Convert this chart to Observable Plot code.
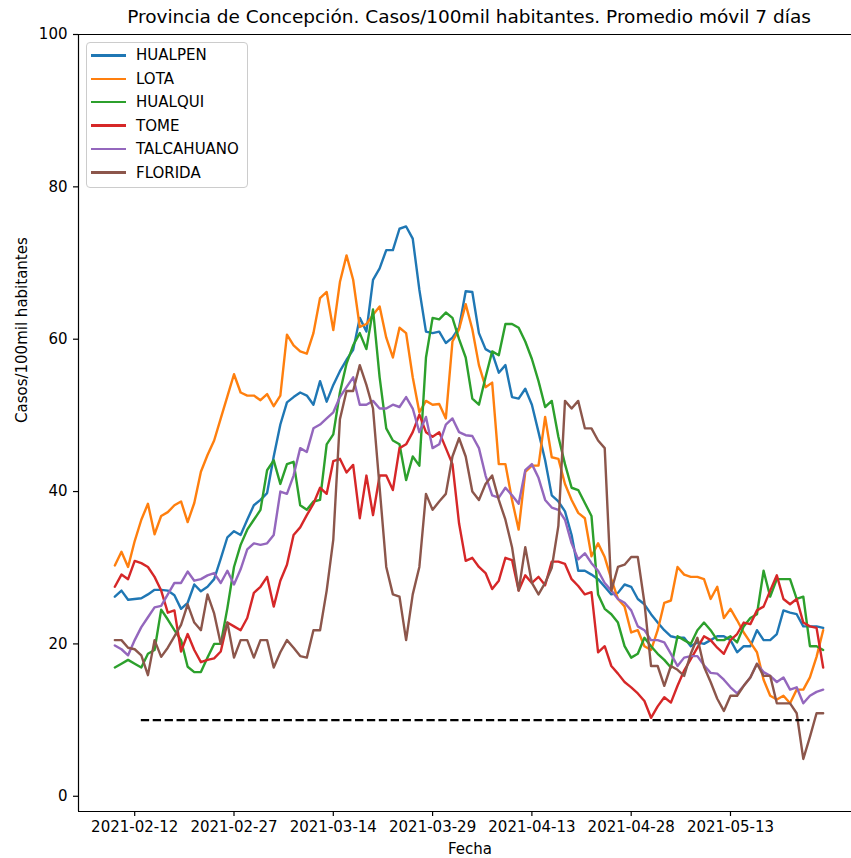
<!DOCTYPE html>
<html>
<head>
<meta charset="utf-8">
<script src="https://cdn.jsdelivr.net/npm/d3@7"></script>
<script src="https://cdn.jsdelivr.net/npm/@observablehq/plot@0.6"></script>
<style>
  html, body { margin: 0; padding: 0; background: #fff; }
  #wrap { position: relative; width: 851px; height: 858px; font-family: "DejaVu Sans", sans-serif; }
  #legend { position: absolute; left: 86px; top: 42px; width: 162px; height: 146px; box-sizing: border-box;
            border: 1px solid #cccccc; border-radius: 4px; background: rgba(255,255,255,0.8); }
  .sw { position: absolute; left: 4px; width: 35px; height: 2.5px; }
  .lab { position: absolute; left: 49px; font-size: 15px; line-height: 18px; color: #000; white-space: nowrap; }
</style>
</head>
<body>
<div id="wrap"></div>
<script>
// ---- data ----
const series = ["HUALPEN", "LOTA", "HUALQUI", "TOME", "TALCAHUANO", "FLORIDA"];
const colors = ["#1f77b4", "#ff7f0e", "#2ca02c", "#d62728", "#9467bd", "#8c564b"];
const firstDay = "2021-02-09";
const lastDay = "2021-05-27";

const hualpen = [
  26.2, 27.0, 25.8, 25.9, 26.0, 26.5, 27.1, 27.1, 27.0, 26.4,
  24.6, 25.4, 27.8, 26.9, 27.5, 28.5, 31.2, 34.0, 34.8, 34.3,
  36.3, 38.2, 38.9, 39.8, 44.6, 48.8, 51.7, 52.4, 53.0, 52.6,
  51.4, 54.5, 51.8, 54.0, 55.8, 57.3, 58.6, 62.8, 61.0, 67.8,
  69.3, 71.7, 71.7, 74.5, 74.8, 73.2, 66.5, 61.0, 60.8, 61.0,
  59.5, 60.2, 61.5, 66.3, 66.2, 60.8, 58.7, 58.2, 55.6, 56.6,
  52.4, 52.2, 53.5, 51.4, 47.8, 44.1, 39.5, 38.7, 37.4, 34.3,
  29.6, 29.6, 29.1, 28.5, 27.5, 26.5, 26.7, 27.8, 27.5, 25.9,
  25.2, 23.9, 22.8, 21.8, 21.0, 20.8, 20.8, 19.7, 20.2, 20.0,
  20.5, 21.0, 21.0, 20.5, 18.9, 19.7, 19.7, 21.8, 20.5, 20.5,
  21.3, 24.4, 24.1, 23.9, 22.3, 22.3, 22.3, 22.1
];
const lota = [
  30.3, 32.1, 30.1, 33.5, 36.3, 38.4, 34.4, 36.8, 37.3, 38.2,
  38.7, 36.0, 38.5, 42.6, 44.8, 46.7, 49.6, 52.5, 55.4, 53.0,
  52.6, 52.6, 52.0, 52.8, 51.2, 52.6, 60.6, 59.2, 58.4, 58.1,
  60.8, 65.4, 66.2, 61.2, 67.5, 71.0, 67.8, 61.6, 62.0, 63.2,
  64.3, 60.2, 57.6, 61.5, 60.8, 55.0, 50.4, 51.9, 51.4, 51.5,
  49.6, 59.7, 61.3, 64.6, 61.3, 56.6, 53.7, 54.3, 43.6, 43.6,
  38.9, 35.0, 42.6, 43.4, 43.4, 49.8, 44.5, 44.3, 41.0, 38.9,
  37.2, 36.5, 31.5, 33.2, 31.4, 28.5, 25.9, 24.9, 21.5, 21.8,
  19.7, 19.2, 21.8, 25.4, 25.7, 30.1, 29.1, 28.8, 28.8, 28.5,
  25.9, 27.5, 23.4, 24.6, 23.1, 21.5, 20.2, 18.9, 15.3, 13.2,
  12.7, 13.2, 12.2, 14.0, 14.0, 15.6, 18.3, 21.8
];
const hualqui = [
  16.9, 17.4, 17.9, 17.4, 16.9, 18.7, 19.2, 24.5, 23.2, 21.8,
  20.5, 17.0, 16.3, 16.3, 18.2, 20.0, 20.0, 24.7, 30.1, 33.0,
  35.0, 36.3, 37.6, 42.8, 44.1, 41.0, 43.6, 43.9, 38.2, 37.6,
  38.7, 38.9, 46.2, 47.5, 53.0, 56.8, 59.2, 60.8, 58.7, 63.9,
  55.0, 48.3, 46.7, 46.2, 41.5, 44.6, 43.4, 57.6, 62.8, 62.6,
  63.5, 62.8, 60.0, 57.6, 52.2, 51.4, 55.0, 58.4, 57.9, 62.0,
  62.0, 61.5, 59.7, 57.4, 54.5, 51.1, 51.9, 47.2, 43.6, 40.5,
  40.2, 38.5, 36.8, 26.5, 24.6, 23.9, 22.8, 19.7, 18.2, 18.7,
  20.8, 19.7, 18.7, 17.9, 16.9, 21.0, 20.5, 20.0, 21.8, 22.8,
  21.8, 20.5, 20.5, 21.0, 20.2, 22.3, 23.4, 23.9, 29.6, 26.2,
  28.5, 28.5, 28.5, 25.9, 26.2, 19.7, 19.7, 19.2
];
const tome = [
  27.5, 29.1, 28.5, 30.9, 30.6, 30.1, 28.8, 27.0, 24.1, 24.4,
  19.0, 21.3, 19.2, 17.6, 17.9, 18.1, 19.0, 22.8, 22.3, 21.8,
  23.4, 26.7, 27.5, 28.8, 24.9, 28.3, 30.4, 34.3, 35.3, 36.9,
  38.4, 40.5, 39.7, 44.0, 44.3, 42.5, 43.5, 36.5, 42.1, 36.9,
  42.1, 42.1, 40.2, 45.7, 46.2, 47.8, 50.1, 47.8, 47.2, 47.8,
  45.7, 43.6, 35.8, 30.9, 31.3, 30.1, 29.3, 27.2, 28.3, 31.3,
  31.0, 27.0, 29.0, 28.0, 28.8, 27.7, 30.8, 30.8, 30.5, 28.5,
  27.6, 26.5, 26.8, 18.9, 19.7, 17.1, 16.1, 15.0, 14.3, 13.5,
  12.5, 10.3, 11.8, 13.0, 12.3, 14.5, 16.5, 18.0, 19.5, 21.0,
  20.5, 19.5, 18.7, 20.5, 21.3, 22.8, 22.6, 24.4, 24.9, 27.0,
  29.0, 25.9, 25.2, 25.9, 22.8, 22.3, 22.1, 16.9
];
const talcahuano = [
  19.8, 19.3, 18.5, 20.5, 22.2, 23.5, 24.8, 25.0, 26.5, 28.0,
  28.0, 29.5, 28.3, 28.5, 29.0, 29.3, 28.0, 29.6, 27.8, 29.8,
  32.4, 33.2, 33.0, 33.2, 34.3, 40.0, 39.7, 42.1, 45.7, 45.2,
  48.3, 48.8, 49.6, 50.4, 52.4, 53.7, 55.0, 51.4, 51.4, 51.9,
  50.9, 50.9, 51.4, 51.1, 52.4, 50.9, 47.8, 49.8, 45.7, 46.2,
  48.8, 49.6, 47.8, 47.4, 47.3, 45.7, 42.1, 39.5, 39.2, 40.5,
  39.5, 38.4, 42.8, 43.6, 41.8, 38.9, 37.9, 37.6, 36.3, 33.2,
  31.1, 31.9, 30.6, 29.6, 28.0, 27.0, 25.9, 25.4, 24.4, 22.3,
  21.8, 20.5, 20.5, 20.2, 18.7, 17.1, 18.2, 18.4, 18.4, 17.2,
  16.2, 16.1, 15.3, 14.3, 13.5, 14.5, 15.6, 17.4, 16.3, 15.8,
  15.0, 15.6, 14.0, 14.3, 12.2, 13.2, 13.7, 14.0
];
const florida = [
  20.5, 20.5, 19.5, 19.3, 18.5, 15.9, 20.5, 18.3, 19.5, 21.0,
  22.5, 25.2, 22.8, 21.8, 26.5, 24.0, 20.0, 22.8, 18.2, 20.5,
  20.5, 18.2, 20.5, 20.5, 16.9, 18.9, 20.5, 19.5, 18.4, 18.2,
  21.8, 21.8, 27.0, 33.7, 49.5, 53.2, 53.2, 56.6, 54.0, 50.9,
  40.5, 30.1, 26.5, 26.2, 20.5, 26.5, 30.1, 39.7, 37.6, 38.7,
  39.7, 44.6, 47.0, 44.6, 40.0, 38.9, 41.0, 42.1, 38.9, 36.3,
  32.7, 27.0, 32.7, 28.0, 26.5, 28.0, 30.0, 35.5, 51.9, 50.9,
  51.9, 48.3, 48.3, 46.7, 45.7, 27.0, 30.1, 30.4, 31.4, 31.4,
  25.4, 17.1, 17.1, 14.5, 17.1, 16.6, 15.8, 18.7, 20.8, 17.0,
  15.0, 12.8, 11.2, 13.2, 13.2, 14.5, 15.6, 17.4, 15.8, 15.8,
  12.2, 12.2, 12.2, 10.9, 4.9, 7.8, 10.9, 10.9
];
const seriesValues = [hualpen, lota, hualqui, tome, talcahuano, florida];

const tickDates = ["2021-02-12", "2021-02-27", "2021-03-14", "2021-03-29", "2021-04-13", "2021-04-28", "2021-05-13"];
const yTicks = [0, 20, 40, 60, 80, 100];
const thresholdValue = 10;
const thresholdFrom = "2021-02-13";
const thresholdTo = "2021-05-25";

const titleText = "Provincia de Concepción. Casos/100mil habitantes. Promedio móvil 7 días";
const xLabel = "Fecha";
const yLabel = "Casos/100mil habitantes";

// ---- build table ----
const parse = d3.utcParse("%Y-%m-%d");
const days = d3.utcDay.range(parse(firstDay), d3.utcDay.offset(parse(lastDay), 1));
const rows = [];
series.forEach((name, k) => {
  seriesValues[k].forEach((v, i) => rows.push({series: name, date: days[i], value: v}));
});

// axis limits (matplotlib-like view window)
const DAY = 864e5;
const ref = parse("2021-02-12").getTime();
const xDomain = [new Date(ref - 8.49 * DAY), new Date(ref + 108.28 * DAY)];
const yDomain = [-2, 100];

const chart = Plot.plot({
  width: 851,
  height: 858,
  marginLeft: 78,
  marginRight: 0,
  marginTop: 34,
  marginBottom: 47,
  style: {fontFamily: "'DejaVu Sans', sans-serif", fontSize: "15px", color: "#000", background: "#fff", overflow: "visible"},
  x: {type: "utc", domain: xDomain},
  y: {domain: yDomain},
  color: {domain: series, range: colors},
  marks: [
    Plot.ruleX([xDomain[0]], {stroke: "#000", strokeWidth: 1.2}),
    Plot.ruleY(yDomain, {stroke: "#000", strokeWidth: 1.2}),
    Plot.axisX({ticks: tickDates.map(parse), tickFormat: d3.utcFormat("%Y-%m-%d"), tickSize: 5, tickPadding: 5, label: null, strokeWidth: 1.2}),
    Plot.axisY({ticks: yTicks, tickSize: 5, tickPadding: 6, label: null, strokeWidth: 1.2}),
    Plot.line(rows, {x: "date", y: "value", z: "series", stroke: "series", strokeWidth: 2.4}),
    Plot.ruleY([thresholdValue], {x1: () => parse(thresholdFrom), x2: () => parse(thresholdTo),
      stroke: "#000", strokeWidth: 2.2, strokeDasharray: "8.3,3.6"}),
    Plot.text([titleText], {text: d => d, frameAnchor: "top", dy: -17, dx: 4, fontSize: 18.5, lineAnchor: "middle"}),
    Plot.text([xLabel], {text: d => d, frameAnchor: "bottom", dy: 38, dx: 5, fontSize: 15, lineAnchor: "middle"}),
    Plot.text([yLabel], {text: d => d, frameAnchor: "left", dx: -56, rotate: -90, fontSize: 15, lineAnchor: "middle"})
  ]
});

const wrap = document.getElementById("wrap");
wrap.appendChild(chart);

// legend
const legend = document.createElement("div");
legend.id = "legend";
series.forEach((name, k) => {
  const cy = 12.3 + k * 23.45;
  const sw = document.createElement("div");
  sw.className = "sw";
  sw.style.top = (cy - 1.25) + "px";
  sw.style.background = colors[k];
  const lab = document.createElement("div");
  lab.className = "lab";
  lab.style.top = (cy - 9) + "px";
  lab.textContent = name;
  legend.appendChild(sw);
  legend.appendChild(lab);
});
wrap.appendChild(legend);
</script>
</body>
</html>
